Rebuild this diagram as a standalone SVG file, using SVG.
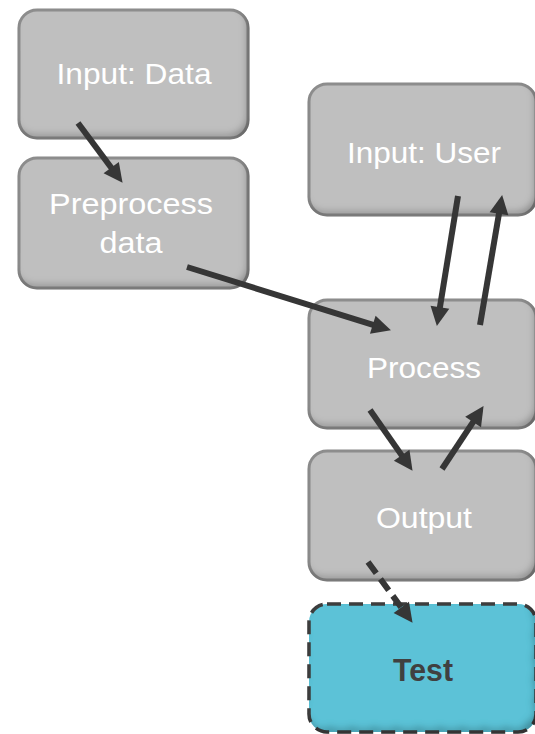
<svg xmlns="http://www.w3.org/2000/svg" width="535" height="734" viewBox="0 0 535 734">
  <style>
    .box { fill: #bfbfbf; stroke: #8e8e8e; stroke-width: 3; filter: url(#bevel); }
    .test { fill: #5bc2d7; stroke: #3f3f3f; stroke-width: 3.5; stroke-dasharray: 14 8; filter: url(#bevel); }
    .lbl { font-family: "Liberation Sans", Arial, sans-serif; font-size: 30px; fill: #ffffff; text-anchor: middle; }
    .lbl-b { font-family: "Liberation Sans", Arial, sans-serif; font-size: 31px; font-weight: bold; fill: #404040; text-anchor: middle; }
    .arrow { fill: none; stroke: #363636; stroke-width: 6; marker-end: url(#head); }
    .dashed { stroke-dasharray: 14 7; }
  </style>
  <defs>
    <!-- inner shadow along the lower and right edges -->
    <filter id="bevel" x="-5%" y="-5%" width="110%" height="110%">
      <feComponentTransfer in="SourceAlpha" result="inv">
        <feFuncA type="table" tableValues="1 0"/>
      </feComponentTransfer>
      <feGaussianBlur in="inv" stdDeviation="3.5" result="blur"/>
      <feOffset in="blur" dx="-3" dy="-5" result="off"/>
      <feFlood flood-color="#000000" flood-opacity="0.5"/>
      <feComposite operator="in" in2="off"/>
      <feComposite operator="in" in2="SourceAlpha" result="shadow"/>
      <feMerge>
        <feMergeNode in="SourceGraphic"/>
        <feMergeNode in="shadow"/>
      </feMerge>
    </filter>
    <marker id="head" markerUnits="userSpaceOnUse" markerWidth="24" markerHeight="24" viewBox="-3 -12 24 24" refX="0" refY="0" orient="auto">
      <path d="M-2,-9.5 L17,0 L-2,9.5 z" fill="#363636"/>
    </marker>
  </defs>

  <g id="node-input-data">
    <rect class="box" x="19" y="10" width="229" height="128" rx="18"/>
    <text class="lbl" x="134" y="84" textLength="155" lengthAdjust="spacingAndGlyphs">Input: Data</text>
  </g>

  <g id="node-preprocess">
    <rect class="box" x="19" y="158" width="229" height="130" rx="18"/>
    <text class="lbl" x="131" y="214" textLength="164" lengthAdjust="spacingAndGlyphs">Preprocess</text>
    <text class="lbl" x="131" y="253" textLength="63" lengthAdjust="spacingAndGlyphs">data</text>
  </g>

  <g id="node-input-user">
    <rect class="box" x="309" y="84" width="227" height="131" rx="18"/>
    <text class="lbl" x="424" y="163" textLength="154" lengthAdjust="spacingAndGlyphs">Input: User</text>
  </g>

  <g id="node-process">
    <rect class="box" x="309" y="300" width="227" height="128" rx="18"/>
    <text class="lbl" x="424" y="378" textLength="114" lengthAdjust="spacingAndGlyphs">Process</text>
  </g>

  <g id="node-output">
    <rect class="box" x="309" y="451" width="227" height="129" rx="18"/>
    <text class="lbl" x="424" y="528" textLength="96" lengthAdjust="spacingAndGlyphs">Output</text>
  </g>

  <g id="node-test">
    <rect class="test" x="309" y="604" width="227" height="128" rx="18"/>
    <text class="lbl-b" x="423" y="681" textLength="60" lengthAdjust="spacingAndGlyphs">Test</text>
  </g>

  <g id="connectors">
    <path class="arrow" d="M78,123 L112.4,169.2"/>
    <path class="arrow" d="M187,267 L374.7,325.3"/>
    <path class="arrow" d="M458,196 L439.6,309.2"/>
    <path class="arrow" d="M480,325 L499.3,211.8"/>
    <path class="arrow" d="M370,410 L402.8,456.9"/>
    <path class="arrow" d="M442,469 L474.2,420.3"/>
    <path class="arrow dashed" d="M368,562 L402.5,609.1"/>
  </g>
</svg>
